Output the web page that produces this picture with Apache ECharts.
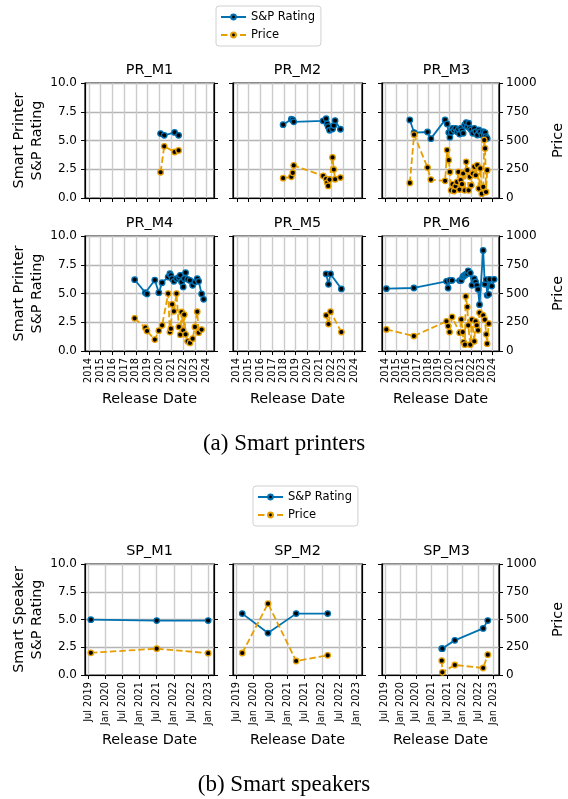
<!DOCTYPE html>
<html>
<head>
<meta charset="utf-8">
<script src="https://cdn.jsdelivr.net/npm/echarts@6/dist/echarts.min.js"></script>
<style>
html, body { margin: 0; padding: 0; background: #fff; }
#chart { width: 568px; height: 799px; }
</style>
</head>
<body>
<div id="chart"></div>
<script>
// release dates are fractional years
var printerTicks = [2014, 2015, 2016, 2017, 2018, 2019, 2020, 2021, 2022, 2023, 2024];
var printerTickLabels = ['2014', '2015', '2016', '2017', '2018', '2019', '2020', '2021', '2022', '2023', '2024'];
var speakerTicks = [2019.5, 2020, 2020.5, 2021, 2021.5, 2022, 2022.5, 2023];
var speakerTickLabels = ['Jul 2019', 'Jan 2020', 'Jul 2020', 'Jan 2021', 'Jul 2021', 'Jan 2022', 'Jul 2022', 'Jan 2023'];
var ratingTicks = [0, 2.5, 5, 7.5, 10];
var priceTicks = [0, 250, 500, 750, 1000];

var prM1Dates = [2020.09, 2020.40, 2021.28, 2021.62];
var prM1Rating = [5.6, 5.45, 5.7, 5.45];
var prM1Price = [224, 449, 400, 414];

var prM2Dates = [2017.93, 2018.63, 2018.75, 2018.83, 2021.33, 2021.58, 2021.67, 2021.75, 2021.87, 2022.12, 2022.23, 2022.34, 2022.79];
var prM2Rating = [6.38, 6.85, 6.8, 6.62, 6.7, 6.9, 6.44, 6.2, 5.89, 6.0, 6.3, 6.73, 5.98];
var prM2Price = [172, 184, 219, 283, 192, 166, 134, 105, 160, 353, 248, 163, 178];

var prM3Dates = [2016.28, 2016.68, 2017.94, 2018.25, 2019.58, 2019.77, 2019.92, 2020.03, 2020.14, 2020.28,
  2020.42, 2020.56, 2020.70, 2020.82, 2020.93, 2021.04, 2021.16, 2021.27, 2021.41, 2021.55,
  2021.66, 2021.78, 2021.89, 2022.03, 2022.17, 2022.31, 2022.45, 2022.59, 2022.73, 2022.87,
  2023.01, 2023.15, 2023.24, 2023.32, 2023.41, 2023.52];
var prM3Rating = [6.79, 5.69, 5.74, 5.16, 6.79, 6.44, 5.69, 5.28, 5.71, 6.06,
  5.9, 6.06, 5.77, 5.97, 5.56, 6.06, 5.86, 5.63, 6.36, 6.56,
  6.21, 6.5, 6.06, 5.92, 5.63, 6.06, 5.77, 5.48, 5.92, 5.77,
  5.48, 5.77, 5.48, 5.69, 5.34, 5.19];
var prM3Price = [131, 551, 265, 160, 149, 417, 329, 227, 67, 120,
  61, 102, 140, 227, 73, 155, 120, 213, 67, 315,
  242, 67, 184, 111, 213, 271, 198, 286, 82, 257,
  38, 96, 504, 431, 52, 242];

var prM4Dates = [2017.89, 2018.80, 2018.94, 2019.60, 2019.94, 2020.22, 2020.73, 2020.88, 2020.96, 2021.07,
  2021.22, 2021.44, 2021.64, 2021.76, 2021.87, 2022.01, 2022.10, 2022.21, 2022.38, 2022.58,
  2022.81, 2023.00, 2023.20, 2023.32, 2023.57, 2023.74];
var prM4Rating = [6.2, 5.07, 4.96, 6.17, 5.07, 5.94, 6.43, 6.72, 6.58, 6.29,
  6.06, 6.29, 6.41, 6.58, 6.0, 5.57, 6.29, 6.81, 6.23, 6.14,
  5.71, 6.0, 6.29, 6.06, 4.96, 4.49];
var prM4Price = [284, 203, 174, 99, 177, 223, 499, 165, 194, 406,
  345, 499, 209, 142, 339, 180, 316, 145, 84, 70,
  107, 209, 342, 159, 186, null];

var prM5Dates = [2021.58, 2021.78, 2021.95, 2022.87];
var prM5Rating = [6.7, 5.8, 6.7, 5.4];
var prM5Price = [310, 235, 342, 165];

var prM6Dates = [2014.09, 2016.66, 2019.71, 2019.86, 2020.00, 2020.23, 2020.94, 2021.09, 2021.23, 2021.31,
  2021.43, 2021.51, 2021.66, 2021.74, 2021.94, 2022.09, 2022.31, 2022.43, 2022.54, 2022.66,
  2022.80, 2023.14, 2023.29, 2023.43, 2023.51, 2023.66, 2023.74, 2023.94, 2024.17];
var prM6Rating = [5.42, 5.48, 6.06, 5.48, 6.14, 6.14, 6.12, 6.14, 6.43, 6.52,
  6.58, 6.67, 6.72, 6.96, 6.78, 5.71, 6.29, 6.0, 5.71, 5.36,
  4.03, 8.75, 5.8, 6.2, 4.84, 4.93, 6.23, 5.65, 6.23];
var prM6Price = [188, 130, 258, 217, 165, 296, 159, 275, 165, 78,
  55, 475, 383, 223, 55, 272, 84, 258, 223, 180,
  333, 310, 272, 145, 64, 238, null, null, null];

var spM1Dates = [2019.58, 2021.50, 2023.00];
var spM1Rating = [4.98, 4.9, 4.9];
var spM1Price = [200, 237, 197];

var spM2Dates = [2019.68, 2020.43, 2021.25, 2022.17];
var spM2Rating = [5.53, 3.78, 5.53, 5.53];
var spM2Price = [198, 643, 126, 177];

var spM3Dates = [2021.33, 2021.35, 2021.75, 2022.66, 2022.81];
var spM3Rating = [2.37, 2.37, 3.12, 4.2, 4.9];
var spM3Price = [129, 24, 90, 63, 183];

var blue = '#0072B2';
var orange = '#E69F00';
var font = 'DejaVu Sans';

var colLeft = [85, 233, 382];
var plotW = 129;

var panels = [
  {name: 'PR_M1', dates: prM1Dates, rating: prM1Rating, price: prM1Price, col: 0, top: 83, h: 115, printer: true, showX: false},
  {name: 'PR_M2', dates: prM2Dates, rating: prM2Rating, price: prM2Price, col: 1, top: 83, h: 115, printer: true, showX: false},
  {name: 'PR_M3', dates: prM3Dates, rating: prM3Rating, price: prM3Price, col: 2, top: 83, h: 115, printer: true, showX: false},
  {name: 'PR_M4', dates: prM4Dates, rating: prM4Rating, price: prM4Price, col: 0, top: 236, h: 115, printer: true, showX: true},
  {name: 'PR_M5', dates: prM5Dates, rating: prM5Rating, price: prM5Price, col: 1, top: 236, h: 115, printer: true, showX: true},
  {name: 'PR_M6', dates: prM6Dates, rating: prM6Rating, price: prM6Price, col: 2, top: 236, h: 115, printer: true, showX: true},
  {name: 'SP_M1', dates: spM1Dates, rating: spM1Rating, price: spM1Price, col: 0, top: 564, h: 111, printer: false, showX: true},
  {name: 'SP_M2', dates: spM2Dates, rating: spM2Rating, price: spM2Price, col: 1, top: 564, h: 111, printer: false, showX: true},
  {name: 'SP_M3', dates: spM3Dates, rating: spM3Rating, price: spM3Price, col: 2, top: 564, h: 111, printer: false, showX: true}
];

var grids = [], xAxes = [], yAxes = [], series = [], titles = [];
var nameStyle = {fontFamily: font, fontSize: 14.4, color: '#000', lineHeight: 18};

panels.forEach(function (p, i) {
  var ticks = p.printer ? printerTicks : speakerTicks;
  var tickLabels = p.printer ? printerTickLabels : speakerTickLabels;
  grids.push({
    left: colLeft[p.col], top: p.top, width: plotW, height: p.h,
    show: true, borderColor: '#000', borderWidth: 1.2, backgroundColor: '#fff'
  });
  titles.push({
    text: p.name, left: colLeft[p.col] + plotW / 2, top: p.top - 20, textAlign: 'center', padding: 0,
    textStyle: {fontFamily: font, fontSize: 14.4, fontWeight: 'normal', color: '#000'}
  });
  xAxes.push({
    type: 'value', gridIndex: i,
    min: p.printer ? 2013.68 : 2019.41,
    max: p.printer ? 2024.62 : 2023.17,
    axisLine: {show: true, onZero: false, lineStyle: {color: '#000', width: 1.2}},
    axisTick: {show: true, length: 4, customValues: ticks, lineStyle: {color: '#000'}},
    axisLabel: {
      show: p.showX, customValues: ticks, rotate: 90, margin: 7,
      fontFamily: font, fontSize: 9.8, color: '#000',
      formatter: function (v) { return tickLabels[ticks.indexOf(v)] || ''; }
    },
    splitLine: {show: true, lineStyle: {color: '#cbcbcb', width: 1.4}},
    name: p.showX ? 'Release Date' : '', nameLocation: 'middle',
    nameGap: p.printer ? 39 : 56, nameTextStyle: nameStyle
  });
  yAxes.push({
    type: 'value', gridIndex: i, position: 'left', min: 0, max: 10, interval: 2.5,
    axisLine: {show: true, lineStyle: {color: '#000', width: 1.2}},
    axisTick: {show: true, length: 4, lineStyle: {color: '#000'}},
    axisLabel: {show: p.col === 0, margin: 8, fontFamily: font, fontSize: 12, color: '#000',
      formatter: function (v) { return v.toFixed(1); }},
    splitLine: {show: true, lineStyle: {color: '#b4b4b4', width: 1.4}},
    name: p.col === 0 ? (p.printer ? 'Smart Printer\nS&P Rating' : 'Smart Speaker\nS&P Rating') : '',
    nameLocation: 'middle', nameRotate: 90, nameGap: 38, nameTextStyle: nameStyle
  });
  yAxes.push({
    type: 'value', gridIndex: i, position: 'right', min: 0, max: 1000, interval: 250,
    axisLine: {show: true, lineStyle: {color: '#000', width: 1.2}},
    axisTick: {show: true, length: 4, lineStyle: {color: '#000'}},
    axisLabel: {show: p.col === 2, margin: 7, fontFamily: font, fontSize: 12, color: '#000',
      formatter: function (v) { return String(v); }},
    splitLine: {show: false},
    name: p.col === 2 ? 'Price' : '', nameLocation: 'middle', nameRotate: 90, nameGap: 50,
    nameTextStyle: nameStyle
  });
  series.push({
    name: 'S&P Rating', type: 'line', xAxisIndex: i, yAxisIndex: 2 * i,
    data: p.dates.map(function (d, k) { return [d, p.rating[k]]; }),
    symbol: 'circle', symbolSize: 5.5, showAllSymbol: true,
    lineStyle: {color: blue, width: 1.8},
    itemStyle: {color: '#000', borderColor: blue, borderWidth: 1.3},
    emphasis: {disabled: true}, z: 3
  });
  series.push({
    name: 'Price', type: 'line', xAxisIndex: i, yAxisIndex: 2 * i + 1,
    data: p.dates.map(function (d, k) { return [d, p.price[k]]; }),
    symbol: 'circle', symbolSize: 5.5, showAllSymbol: true, connectNulls: false,
    lineStyle: {color: orange, width: 1.8, type: [6.5, 3]},
    itemStyle: {color: '#000', borderColor: orange, borderWidth: 1.3},
    emphasis: {disabled: true}, z: 3
  });
});

titles.push({
  text: '(a) Smart printers', left: 'center', top: 432, padding: 0,
  textStyle: {fontFamily: 'Liberation Serif', fontSize: 23, fontWeight: 'normal', color: '#000'}
});
titles.push({
  text: '(b) Smart speakers', left: 'center', top: 773, padding: 0,
  textStyle: {fontFamily: 'Liberation Serif', fontSize: 23, fontWeight: 'normal', color: '#000'}
});

function makeLegend(left, top) {
  return {
    orient: 'vertical', left: left, top: top, data: ['S&P Rating', 'Price'],
    itemWidth: 25, itemHeight: 6, itemGap: 6, padding: [5, 6, 5, 4],
    borderColor: '#d0d0d0', borderWidth: 1, borderRadius: 3, backgroundColor: '#fff',
    selectedMode: false,
    textStyle: {fontFamily: font, fontSize: 11.5, color: '#000'}
  };
}

var chart = echarts.init(document.getElementById('chart'), null, {renderer: 'canvas'});
chart.setOption({
  animation: false,
  backgroundColor: '#fff',
  title: titles,
  legend: [makeLegend(216, 6), makeLegend(253, 486)],
  grid: grids,
  xAxis: xAxes,
  yAxis: yAxes,
  series: series
});
</script>
</body>
</html>
